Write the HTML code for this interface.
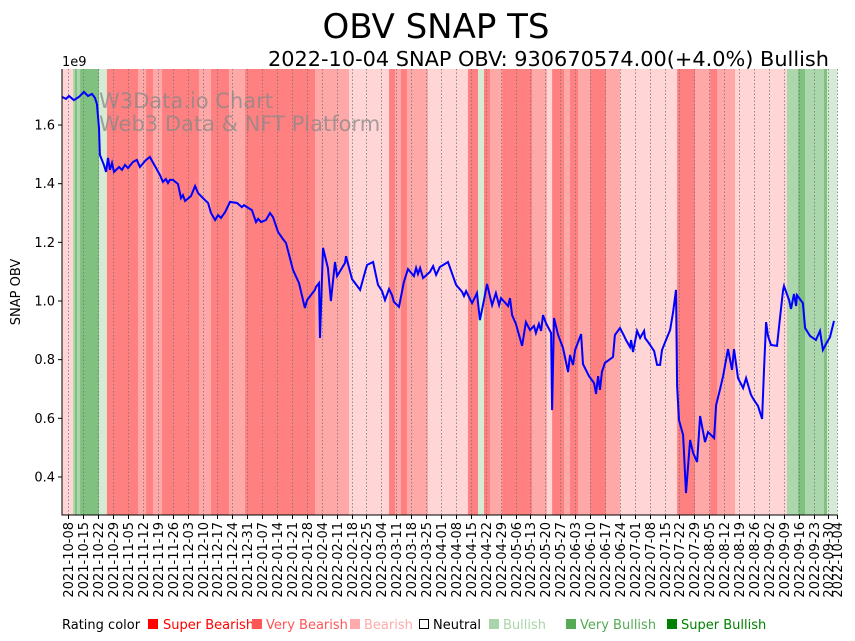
<!DOCTYPE html>
<html><head><meta charset="utf-8"><style>
body{margin:0;background:#fff;}
svg{display:block;font-family:"DejaVu Sans","Liberation Sans",sans-serif;}
</style></head><body>
<svg id="chart" width="855" height="641" viewBox="0 0 855 641" xmlns="http://www.w3.org/2000/svg">
<text x="436" y="38" text-anchor="middle" font-size="34">OBV SNAP TS</text>
<text x="829" y="66" text-anchor="end" font-size="20" textLength="561" lengthAdjust="spacingAndGlyphs">2022-10-04 SNAP OBV: 930670574.00(+4.0%) Bullish</text>
<g id="bands"></g>
<g id="grid"></g>
<text x="99" y="108" font-size="21" fill="#888" fill-opacity="0.75">W3Data.io Chart</text>
<text x="99" y="131" font-size="21" fill="#888" fill-opacity="0.75">Web3 Data &amp; NFT Platform</text>
<path id="line" fill="none" stroke="#0000ff" stroke-width="2"/>
<g id="axes"></g>
<text x="62" y="66" font-size="13">1e9</text>
<text transform="translate(20,292) rotate(-90)" text-anchor="middle" font-size="13">SNAP OBV</text>
<g font-size="13">
<text x="62" y="629">Rating color</text>
<rect x="148" y="619" width="10" height="10" fill="#ff0000"/>
<text x="163" y="629" fill="#ff0000">Super Bearish</text>
<rect x="252" y="619" width="10" height="10" fill="#ff5555"/>
<text x="266" y="629" fill="#ff5555">Very Bearish</text>
<rect x="350" y="619" width="10" height="10" fill="#ffaaaa"/>
<text x="364" y="629" fill="#ffaaaa">Bearish</text>
<rect x="419.5" y="619.5" width="9" height="9" fill="none" stroke="#000"/>
<text x="433" y="629">Neutral</text>
<rect x="489" y="619" width="10" height="10" fill="#aad4aa"/>
<text x="503" y="629" fill="#aad4aa">Bullish</text>
<rect x="566" y="619" width="10" height="10" fill="#55aa55"/>
<text x="580" y="629" fill="#55aa55">Very Bullish</text>
<rect x="667" y="619" width="10" height="10" fill="#008000"/>
<text x="681" y="629" fill="#008000">Super Bullish</text>
</g>
</svg>
<script>
const days=[0,1.9,3.3,5.6,8,10.3,12.2,14.1,15.5,16.4,17.4,17.8,19.7,20.7,21.6,22.5,23.5,24.4,26.8,28.2,29.6,31,33.3,35.2,36.6,39.5,41.3,43.7,46,47.4,48.8,49.8,50.7,52.1,54.5,55.9,56.8,57.8,60.6,62.5,63.9,66.2,68.6,70,71.9,73.3,74.7,76.6,78.9,82.2,84.5,85.5,86.9,89.2,91.1,92.1,93.5,95.8,97.7,99.1,101.5,103.8,105.2,108.5,111.3,114.1,115.1,118.8,119.3,120.7,121.2,122.6,124.9,126.3,128.2,129.2,132.9,133.4,136.2,140,142.3,143.3,146.1,148.4,150.3,151.7,153.6,155,155.9,158.3,160.6,162.5,165.3,166.3,167.2,168.2,169.6,172.8,174.3,175.7,177.5,181.3,185.1,187.9,188.8,189.8,191.6,192.6,194.9,196.3,198.2,199.6,202,203.8,205.3,206.2,209.5,210.4,211.4,213.2,216.1,217.9,219.8,221.7,222.6,224,225,225.9,227.3,229.7,230.2,231.1,233,235.3,237.7,238.6,240,241,243.8,244.7,247.5,249.9,250.8,251.8,252.7,253.6,255,258.8,259.7,262.1,264,264.9,266.8,267.3,268.2,270.1,271.5,273.4,273.8,275.3,278.1,279.5,280.9,281.8,283.7,285.6,287,288.4,288.9,289.8,291.7,293.1,295,296.4,298.3,299.7,302,303.4,306.3,307.2,309.1,310.5,312.8,314.7,315.6,316.6,317.5,319.9,321.3,323.6,325,326.9,328.8,329.7,330.7,331.6,333,335.8,337.3,338.7,339.1,341.5,342.4,343.8,344.8,345.2,348,349,351.3,354.1,356,357.4,359.3,360.7,362.6,363.5];
const obv=[1.696,1.689,1.699,1.685,1.696,1.713,1.699,1.706,1.692,1.672,1.590,1.498,1.464,1.440,1.488,1.447,1.471,1.440,1.457,1.447,1.464,1.453,1.474,1.481,1.457,1.481,1.491,1.460,1.430,1.406,1.416,1.402,1.413,1.413,1.399,1.351,1.361,1.341,1.358,1.392,1.368,1.351,1.334,1.300,1.276,1.293,1.283,1.303,1.338,1.334,1.320,1.327,1.320,1.310,1.269,1.280,1.269,1.276,1.300,1.286,1.235,1.211,1.198,1.106,1.061,0.976,1.003,1.038,1.048,1.061,0.874,1.181,1.113,1.000,1.133,1.085,1.130,1.153,1.075,1.038,1.099,1.123,1.133,1.055,1.034,1.003,1.041,1.020,0.997,0.980,1.065,1.109,1.085,1.113,1.092,1.113,1.078,1.099,1.119,1.089,1.116,1.133,1.055,1.031,1.017,1.034,1.007,0.993,1.027,0.935,1.003,1.058,0.986,1.027,0.986,1.010,0.983,1.010,0.952,0.922,0.847,0.928,0.901,0.915,0.891,0.922,0.898,0.952,0.925,0.891,0.628,0.942,0.884,0.840,0.758,0.816,0.782,0.833,0.887,0.785,0.744,0.720,0.683,0.744,0.697,0.758,0.789,0.809,0.884,0.908,0.881,0.867,0.843,0.867,0.826,0.898,0.874,0.898,0.874,0.860,0.830,0.782,0.782,0.833,0.867,0.901,0.962,1.038,0.710,0.594,0.543,0.345,0.526,0.482,0.451,0.608,0.519,0.553,0.533,0.645,0.700,0.744,0.836,0.765,0.836,0.785,0.737,0.703,0.737,0.680,0.662,0.642,0.598,0.765,0.928,0.881,0.850,0.847,0.949,1.038,1.051,1.003,0.973,1.024,0.983,1.020,0.993,0.908,0.881,0.867,0.898,0.833,0.860,0.877,0.932];
const bandStart=[0,5.2,6.1,7,8.5,17.4,21.1,35.7,39.5,42.7,47,64.3,70,78.4,86,118.8,134.8,153.6,156.4,159.2,162,171.9,190.7,195.4,198.2,201,206.7,220.8,227.8,230.2,235.8,238.6,242.4,248,255.5,262.1,288.9,297.3,304.4,307.7,316.1,340.5,345.7,349,357.9,359.3];
const bandEnd=[5.2,6.1,7,8.5,17.4,21.1,35.7,39.5,42.7,47,64.3,70,78.4,86,118.8,134.8,153.6,156.4,159.2,162,171.9,190.7,195.4,198.2,201,206.7,220.8,227.8,230.2,235.8,238.6,242.4,248,255.5,262.1,288.9,297.3,304.4,307.7,316.1,340.5,345.7,349,357.9,359.3,364];
const bandLevel=[-1,2,3,2,3,1,-3,-2,-3,-2,-3,-2,-3,-2,-3,-2,-1,-3,-2,-3,-2,-1,-3,1,-3,-2,-3,-2,-1,-3,-2,-3,-2,-3,-2,-1,-3,-2,-3,-2,-1,2,3,2,3,1];
const tickLabels=["2021-10-08","2021-10-15","2021-10-22","2021-10-29","2021-11-05","2021-11-12","2021-11-19","2021-11-26","2021-12-03","2021-12-10","2021-12-17","2021-12-24","2021-12-31","2022-01-07","2022-01-14","2022-01-21","2022-01-28","2022-02-04","2022-02-11","2022-02-18","2022-02-25","2022-03-04","2022-03-11","2022-03-18","2022-03-25","2022-04-01","2022-04-08","2022-04-15","2022-04-22","2022-04-29","2022-05-06","2022-05-13","2022-05-20","2022-05-27","2022-06-03","2022-06-10","2022-06-17","2022-06-24","2022-07-01","2022-07-08","2022-07-15","2022-07-22","2022-07-29","2022-08-05","2022-08-12","2022-08-19","2022-08-26","2022-09-02","2022-09-09","2022-09-16","2022-09-23","2022-09-30","2022-10-04"];
const yTicks=[0.4,0.6,0.8,1.0,1.2,1.4,1.6];
const yTickLabels=["0.4","0.6","0.8","1.0","1.2","1.4","1.6"];

const L=62,R=837,T=69,B=515;
const x=d=>L+d*(R-L)/364;
const y=v=>301-(v-1.0)*293.3;
const dayOf=s=>(Date.parse(s)-Date.parse("2021-10-05"))/864e5;
const NS="http://www.w3.org/2000/svg";
const colors={"-3":"#ff8080","-2":"#ffa8a8","-1":"#ffd5d5","1":"#d5ebd5","2":"#acd7ac","3":"#80c080"};
const bands=document.getElementById('bands');
for(let i=0;i<bandStart.length;i++){
  const r=document.createElementNS(NS,'rect');
  
  
  const x0=x(bandStart[i]),x1=x(bandEnd[i]);
  r.setAttribute('x',x0);r.setAttribute('y',T);
  r.setAttribute('width',Math.max(0,x1-x0)+0.3);r.setAttribute('height',B-T);
  r.setAttribute('fill',colors[String(bandLevel[i])]);
  bands.appendChild(r);
}
const grid=document.getElementById('grid'),axes=document.getElementById('axes');
tickLabels.forEach(s=>{
  const px=Math.round(x(dayOf(s)))+0.5;
  const g=document.createElementNS(NS,'line');
  
  
  g.setAttribute('x1',px);g.setAttribute('x2',px);g.setAttribute('y1',T);g.setAttribute('y2',B);
  g.setAttribute('stroke','#777');g.setAttribute('stroke-width','0.8');g.setAttribute('stroke-dasharray','1.5,2');
  grid.appendChild(g);
  const t=document.createElementNS(NS,'line');
  
  
  t.setAttribute('x1',px);t.setAttribute('x2',px);t.setAttribute('y1',B);t.setAttribute('y2',B+4);
  t.setAttribute('stroke','#000');
  axes.appendChild(t);
  const tx=document.createElementNS(NS,'text');
  
  
  tx.setAttribute('transform','translate('+(px+4.5)+','+(B+7)+') rotate(-90)');
  tx.setAttribute('text-anchor','end');tx.setAttribute('font-size','13');
  tx.textContent=s;
  axes.appendChild(tx);
});
yTicks.forEach((v,i)=>{
  const py=y(v);
  const t=document.createElementNS(NS,'line');
  
  
  t.setAttribute('x1',L-4);t.setAttribute('x2',L);t.setAttribute('y1',py);t.setAttribute('y2',py);
  t.setAttribute('stroke','#000');
  axes.appendChild(t);
  const tx=document.createElementNS(NS,'text');
  
  
  tx.setAttribute('x',L-7);tx.setAttribute('y',py+4.5);
  tx.setAttribute('text-anchor','end');tx.setAttribute('font-size','13');
  tx.textContent=yTickLabels[i];
  axes.appendChild(tx);
});
const sp=document.createElementNS(NS,'path');


sp.setAttribute('d','M'+L+','+T+'V'+B+'H'+R);
sp.setAttribute('fill','none');sp.setAttribute('stroke','#000');sp.setAttribute('stroke-width','1');
axes.appendChild(sp);
document.getElementById('line').setAttribute('d',days.map((d,i)=>(i?'L':'M')+x(d).toFixed(1)+','+y(obv[i]).toFixed(1)).join(''));
</script>
</body></html>
